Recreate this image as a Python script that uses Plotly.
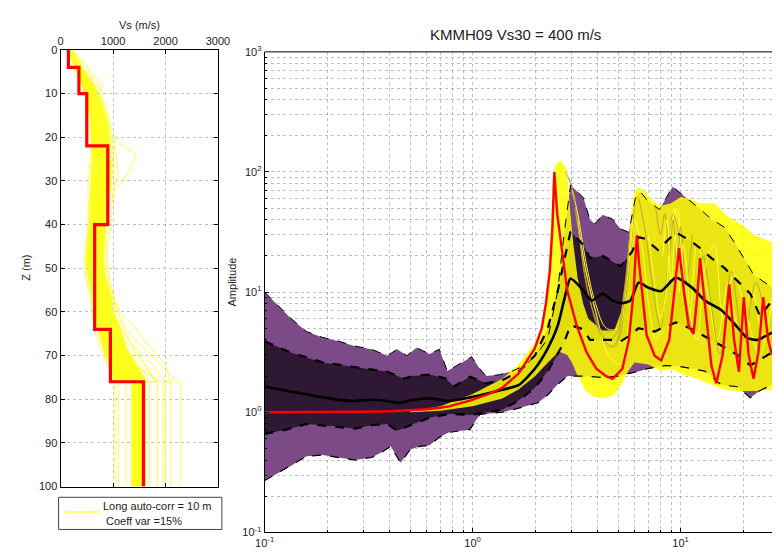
import plotly.graph_objects as go

# ---------------- data: Vs profiles (left panel) ----------------
LAYER_TOP = [0, 4, 10, 22, 40, 64, 76]          # m
LAYER_VS = [150, 350, 500, 900, 650, 950, 1580]  # m/s
Z_MAX = 100

DEPTH_NODES = [0, 4, 8, 12, 16, 20, 24, 28, 32, 36, 40, 44, 48, 52, 56, 60, 64, 68, 72, 76]
CORE_LOW = [150, 250, 390, 500, 560, 580, 600, 580, 560, 550, 540, 500, 490, 520, 600, 640, 700, 800, 920, 1050]
CORE_HIGH = [215, 420, 650, 780, 880, 930, 950, 960, 940, 920, 880, 840, 830, 870, 960, 1020, 1150, 1250, 1450, 1650]
CORE_HALFSPACE = [1350, 1630]

RANDOM_PROFILES = [
    [135, 270, 430, 520, 560, 560, 580, 540, 520, 530, 520, 480, 460, 480, 560, 600, 660, 740, 900, 1020],
    [240, 540, 760, 830, 930, 1000, 1060, 1100, 1010, 980, 960, 900, 880, 920, 1000, 1090, 1200, 1380, 1600, 1800],
    [200, 480, 700, 800, 900, 960, 1440, 1300, 1050, 900, 800, 760, 740, 780, 860, 940, 1020, 1150, 1350, 1500],
    [180, 360, 560, 720, 840, 920, 980, 1000, 960, 900, 860, 820, 800, 860, 960, 1080, 1250, 1550, 1900, 2220],
    [160, 330, 500, 640, 700, 760, 800, 800, 780, 760, 720, 680, 660, 700, 760, 820, 900, 1100, 1400, 1900],
    [220, 420, 640, 760, 820, 880, 940, 980, 940, 880, 840, 860, 880, 920, 1000, 1130, 1440, 1700, 2000, 2100],
    [150, 300, 460, 600, 680, 720, 700, 660, 640, 620, 600, 560, 520, 540, 600, 680, 760, 860, 1000, 1150],
    [190, 380, 600, 740, 780, 820, 860, 900, 880, 860, 800, 760, 720, 740, 800, 900, 1000, 1200, 1500, 1700],
    [170, 300, 480, 580, 640, 700, 740, 700, 660, 640, 620, 600, 580, 620, 680, 740, 800, 900, 1050, 1250],
    [210, 400, 620, 780, 880, 960, 1000, 940, 880, 840, 820, 800, 760, 800, 880, 960, 1100, 1300, 1600, 1850],
    [140, 280, 440, 560, 620, 640, 660, 640, 600, 580, 560, 520, 480, 520, 580, 640, 720, 800, 900, 1050],
    [200, 360, 580, 700, 760, 820, 900, 960, 900, 820, 760, 700, 680, 720, 800, 880, 980, 1100, 1250, 1400],
    [175, 340, 520, 660, 760, 860, 900, 860, 820, 800, 780, 740, 700, 760, 860, 1000, 1150, 1400, 1750, 2000],
    [165, 320, 520, 680, 800, 880, 860, 820, 780, 740, 700, 640, 600, 640, 720, 800, 880, 980, 1150, 1300],
]
HALFSPACE_VS = [1040, 1850, 1560, 2280, 2100, 1950, 1250, 1700, 1460, 1560, 1100, 1420, 2000, 1350]

# ---------------- data: amplification spectra (right panel) ----------------
OUT_UP_F = [0.1, 0.133, 0.159, 0.19, 0.227, 0.272, 0.326, 0.389, 0.434, 0.483, 0.537, 0.621, 0.691, 0.756,
            0.873, 0.989, 1.082, 1.162, 1.341, 1.549, 1.788, 2.063, 2.297, 2.558, 2.75, 2.9, 2.956, 3.41,
            3.664, 3.867, 4.227, 4.71, 5.149, 5.636, 6.05, 6.385, 6.862, 7.502, 7.918, 9.147, 10.94, 12.18,
            14.06, 16.23, 18.07, 20.12, 22.41, 27.5]
OUT_UP_A = [10.0, 6.1, 4.7, 4.2, 3.9, 3.55, 3.35, 2.95, 3.35, 2.95, 3.45, 3.05, 3.35, 2.2,
            2.55, 2.9, 2.3, 2.0, 2.05, 2.2, 2.45, 3.15, 4.1, 10, 30, 65, 78, 61,
            40, 37, 44, 40.5, 33.6, 31.5, 60, 69, 59, 52, 48.7, 75.5, 58.7, 50.4,
            40.5, 34.7, 26.2, 19.2, 14, 10.9]
OUT_LO_F = [0.1, 0.133, 0.159, 0.19, 0.227, 0.272, 0.326, 0.362, 0.404, 0.45, 0.501, 0.558, 0.621, 0.691,
            0.77, 0.971, 1.082, 1.39, 1.726, 2.063, 2.3, 2.56, 2.85, 3.4, 4.2, 5.0, 5.6, 6.4, 6.86, 8.51,
            10.0, 11.34, 13.09, 15.66, 18.73, 21.63, 24.09, 27.5]
OUT_LO_A = [0.27, 0.356, 0.43, 0.44, 0.42, 0.40, 0.42, 0.46, 0.52, 0.38, 0.49, 0.52, 0.53, 0.62,
            0.68, 0.72, 0.96, 1.0, 1.1, 1.2, 1.4, 1.7, 2.0, 2.0, 1.95, 2.0, 2.1, 2.2, 2.3, 2.45,
            2.4, 2.3, 2.2, 1.69, 1.63, 1.32, 1.52, 1.69]
IN_UP_F = [0.1, 0.133, 0.19, 0.272, 0.389, 0.466, 0.519, 0.621, 0.742, 0.813, 0.971, 1.162, 1.39, 1.663,
           1.991, 2.297, 2.558, 2.75, 2.956, 3.41, 3.664, 4.227, 4.71, 5.149, 5.84, 6.28, 6.74, 7.78,
           9.475, 11.34, 12.4, 14.06, 16.23, 18.73, 21.63, 24.09, 27.5]
IN_UP_A = [3.9, 3.15, 2.6, 2.38, 2.17, 1.91, 2.0, 2.06, 1.91, 1.64, 1.98, 1.74, 1.85, 2.17,
           2.96, 5.0, 10, 18, 32, 24.6, 19.2, 20, 18, 16.4, 21.7, 28.7, 27.8, 22.4,
           31.5, 26.2, 23.2, 19.2, 15.9, 12.4, 9.7, 6.3, 8.5]
IN_LO_F = [0.1, 0.133, 0.159, 0.227, 0.272, 0.326, 0.389, 0.434, 0.501, 0.621, 0.77, 0.971, 1.39, 1.663,
           1.991, 2.297, 2.558, 2.75, 2.956, 3.41, 3.664, 4.56, 5.149, 5.636, 6.28, 7.5, 7.92, 9.475,
           11.34, 13.09, 15.66, 18.73, 21.63, 27.5]
IN_LO_A = [0.66, 0.73, 0.80, 0.76, 0.73, 0.78, 0.80, 0.70, 0.78, 0.90, 0.97, 0.95, 1.05, 1.25,
           1.6, 2.2, 3.0, 3.8, 5.3, 4.9, 4.0, 4.0, 3.9, 4.3, 5.0, 4.7, 4.9, 5.6,
           4.9, 4.3, 3.6, 3.0, 2.45, 3.15]
MED_F = [0.1, 0.133, 0.19, 0.2625, 0.326, 0.389, 0.45, 0.519, 0.643, 0.77, 0.971, 1.39, 1.663, 1.991,
         2.297, 2.56, 2.75, 2.956, 3.41, 3.727, 4.227, 4.71, 5.244, 5.733, 6.28, 6.99, 8.06, 9.475,
         11.34, 13.09, 15.66, 18.07, 20.85, 23.23, 27.5]
MED_A = [1.64, 1.49, 1.33, 1.24, 1.27, 1.24, 1.2, 1.27, 1.30, 1.24, 1.33, 1.54, 1.68, 2.3,
         3.4, 5.2, 8.5, 13, 10.3, 8.5, 9.7, 8.5, 8.1, 8.5, 12, 10.9, 10.2, 13.2,
         10.9, 8.5, 7.1, 5.5, 4.17, 4.0, 4.6]
RED_F = [0.1, 0.2, 0.3, 0.4, 0.5, 0.6, 0.7, 0.77, 0.97, 1.2, 1.39, 1.663, 1.99, 2.15, 2.25, 2.35, 2.42,
         2.47, 2.55, 2.653, 2.85, 3.173, 3.532, 3.935, 4.381, 4.71, 5.244, 5.636, 5.947, 6.05, 6.16, 6.3,
         6.5, 6.862, 7.502, 8.06, 8.815, 9.475, 9.82, 10.36, 10.94, 11.54, 12.0, 12.4, 12.8, 13.09, 14.06,
         14.84, 15.93, 17.13, 18.07, 19.07, 20.12, 21.24, 22.41, 23.65, 24.96, 26.34, 27.5]
RED_A = [1.0, 1.0, 1.01, 1.02, 1.04, 1.06, 1.09, 1.12, 1.25, 1.42, 1.6, 2.1, 3.4, 5.0, 8.0, 15, 35,
         100, 45, 26, 10.3, 5.2, 3.15, 2.3, 2.0, 1.9, 2.3, 4.0, 10.3, 18, 29.7, 18,
         10.3, 4.4, 2.96, 2.7, 4.0, 12.4, 23.2, 10.3, 5.2, 4.5, 9, 19.2, 11, 7.5, 2.45,
         1.74, 3.0, 11.6, 4.0, 2.17, 9.1, 3.0, 1.9, 3.15, 9.1, 4.0, 3.0]
YEL_UP_F = [0.5, 0.7, 1.0, 1.39, 1.66, 2.0, 2.2, 2.3, 2.38, 2.43, 2.5, 2.65, 2.8, 2.88, 2.95, 3.05, 3.2,
            3.4, 3.6, 4.2, 4.8, 5.2, 5.5, 5.7, 5.9, 6.2, 6.7, 7.3, 8.0, 9.0, 10.0, 11.0, 12.5, 14.5,
            17.0, 20.0, 22.4, 27.5]
YEL_UP_A = [1.02, 1.12, 1.42, 1.9, 2.5, 3.8, 6, 12, 40, 90, 115, 125, 110, 80, 45, 25, 13,
            8, 6, 4.8, 4.8, 7, 15, 35, 60, 75, 70, 58, 52, 55, 62, 60, 55, 55,
            42, 36, 30, 26]
YEL_LO_F = [0.5, 0.7, 1.0, 1.39, 1.66, 2.0, 2.3, 2.6, 2.85, 3.0, 3.2, 3.5, 3.8, 4.3, 4.8, 5.2, 5.6,
            6.0, 7.0, 8.0, 9.0, 10.0, 12.0, 14.0, 16.0, 19.0, 23.0, 27.5]
YEL_LO_A = [1.0, 1.03, 1.12, 1.3, 1.55, 2.0, 2.6, 3.2, 3.0, 2.6, 2.0, 1.5, 1.35, 1.3, 1.4, 1.7, 2.2,
            2.6, 2.5, 2.2, 2.3, 2.1, 1.9, 1.7, 1.55, 1.5, 1.5, 1.55]
# individual realisations drawn over the envelope (frequency, amplitude)
REALISATIONS = [
    ([2.9, 3.1, 3.3, 3.6, 4.0, 4.5, 5.0, 5.4, 5.8, 6.0], [90, 60, 25, 10, 5, 3.5, 4, 8, 25, 55]),
    ([3.0, 3.2, 3.5, 3.9, 4.4, 5.0, 5.5, 5.9], [70, 45, 18, 8, 5, 5, 12, 40]),
    ([3.1, 3.4, 3.8, 4.3, 4.8, 5.2, 5.6], [50, 20, 8, 4, 3.5, 6, 18]),
    ([3.2, 3.5, 3.9, 4.5, 5.1, 5.6, 6.0], [40, 15, 7, 3, 2.5, 5, 15]),
    ([2.8, 3.0, 3.25, 3.5, 3.9, 4.4, 4.9, 5.3, 5.7], [100, 75, 30, 12, 6, 4, 4.5, 9, 30]),
    ([6.0, 6.5, 7.0, 7.6, 8.2, 8.8, 9.3, 10, 11, 12, 13.5, 15, 17, 19, 22, 25, 27.5],
     [40, 25, 8, 4, 6, 25, 50, 20, 6, 25, 10, 4, 12, 5, 10, 4, 8]),
    ([6.3, 6.8, 7.4, 8.0, 8.6, 9.2, 9.8, 10.5, 11.5, 12.8, 14, 15.5, 17.5, 20, 23, 26],
     [60, 30, 10, 5, 15, 45, 30, 10, 5, 20, 8, 3, 15, 4, 12, 5]),
    ([7.0, 7.5, 8.0, 8.5, 9.0, 9.6, 10.2, 11, 12, 13, 14.5, 16, 18, 21, 24, 27.5],
     [30, 12, 6, 10, 35, 50, 18, 7, 4, 15, 25, 6, 14, 6, 3, 9]),
    ([7.6, 8.0, 8.4, 8.8, 9.2, 9.6, 10.0, 10.6, 11.4], [50, 30, 45, 20, 40, 15, 35, 12, 30]),
    ([8.2, 8.6, 9.0, 9.4, 9.8, 10.3, 11.0], [20, 40, 12, 30, 10, 25, 8]),
]

W, H = 784, 553
FONT = "Liberation Sans, Arial, Helvetica, sans-serif"
GRID = "rgba(140,140,140,0.55)"
LIGHT_PURPLE = "#7c4a87"
DARK_PURPLE = "#2e1833"

fig = go.Figure()

# ---- left panel: velocity profiles ----
core_x = CORE_LOW + [CORE_HALFSPACE[0], CORE_HALFSPACE[0], CORE_HALFSPACE[1], CORE_HALFSPACE[1]] + CORE_HIGH[::-1]
core_y = DEPTH_NODES + [DEPTH_NODES[-1], Z_MAX, Z_MAX, DEPTH_NODES[-1]] + DEPTH_NODES[::-1]
fig.add_trace(go.Scatter(x=core_x, y=core_y, fill="toself", fillcolor="rgba(255,255,0,0.9)",
                         line=dict(width=0), mode="lines", xaxis="x", yaxis="y", hoverinfo="skip"))
for prof, vs_half in zip(RANDOM_PROFILES, HALFSPACE_VS):
    fig.add_trace(go.Scatter(x=prof + [vs_half, vs_half], y=DEPTH_NODES + [DEPTH_NODES[-1], Z_MAX],
                             mode="lines", line=dict(color="rgba(255,255,40,0.85)", width=1),
                             xaxis="x", yaxis="y", hoverinfo="skip"))

step_x, step_y = [], []
tops = LAYER_TOP + [Z_MAX]
for i, vs in enumerate(LAYER_VS):
    step_x += [vs, vs]
    step_y += [tops[i], tops[i + 1]]
fig.add_trace(go.Scatter(x=step_x, y=step_y, mode="lines", line=dict(color="#ff0000", width=3.2),
                         xaxis="x", yaxis="y", hoverinfo="skip"))

# ---- right panel: amplification ----
def band(fu, au, fl, al, color):
    return go.Scatter(x=fu + fl[::-1], y=au + al[::-1], fill="toself", fillcolor=color,
                      line=dict(width=0), mode="lines", xaxis="x2", yaxis="y2", hoverinfo="skip")

fig.add_trace(band(OUT_UP_F, OUT_UP_A, OUT_LO_F, OUT_LO_A, LIGHT_PURPLE))
fig.add_trace(band(IN_UP_F, IN_UP_A, IN_LO_F, IN_LO_A, DARK_PURPLE))
fig.add_trace(band(YEL_UP_F, YEL_UP_A, YEL_LO_F, YEL_LO_A, "rgba(255,255,0,0.86)"))

for i, (rf, ra) in enumerate(REALISATIONS):
    col = "rgba(190,160,50,0.9)" if i % 2 == 0 else "rgba(255,255,60,0.95)"
    fig.add_trace(go.Scatter(x=rf, y=ra, mode="lines", line=dict(color=col, width=1, shape="spline"),
                             xaxis="x2", yaxis="y2", hoverinfo="skip"))

for fx, ay, w in [(OUT_UP_F, OUT_UP_A, 1), (OUT_LO_F, OUT_LO_A, 1.2), (IN_UP_F, IN_UP_A, 2.2), (IN_LO_F, IN_LO_A, 2.2)]:
    fig.add_trace(go.Scatter(x=fx, y=ay, mode="lines", line=dict(color="black", width=w, dash="dash"),
                             xaxis="x2", yaxis="y2", hoverinfo="skip"))
fig.add_trace(go.Scatter(x=MED_F, y=MED_A, mode="lines", line=dict(color="black", width=2.6, shape="spline", smoothing=0.6),
                         xaxis="x2", yaxis="y2", hoverinfo="skip"))
fig.add_trace(go.Scatter(x=RED_F, y=RED_A, mode="lines", line=dict(color="#ff0000", width=2.4),
                         xaxis="x2", yaxis="y2", hoverinfo="skip"))

# ---- axes ----
tickfont = dict(family=FONT, size=11, color="#222")
common = dict(showline=True, linecolor="black", linewidth=1, ticks="inside", ticklen=4,
              tickcolor="black", zeroline=False, showgrid=True, gridcolor=GRID, griddash="dot",
              gridwidth=1, tickfont=tickfont)

minor_x = [m * 10 ** e for e in (-1, 0, 1) for m in range(2, 10)]
minor_y = [m * 10 ** e for e in (-1, 0, 1, 2) for m in range(2, 10)]
minor_style = dict(ticks="inside", ticklen=2, tickcolor="black", showgrid=True,
                   gridcolor=GRID, griddash="dot", gridwidth=1)

fig.update_layout(
    width=W, height=H, margin=dict(l=0, r=0, t=0, b=0),
    paper_bgcolor="white", plot_bgcolor="white", showlegend=False,
    font=dict(family=FONT, color="#222"),
    xaxis=dict(domain=[52 / W, 214 / W], range=[0, 3000], side="top", tickvals=[0, 1000, 2000, 3000],
               anchor="y", mirror="ticks", **common),
    yaxis=dict(domain=[1 - 491 / H, 1 - 43 / H], range=[Z_MAX, 0], tickvals=list(range(0, 101, 10)),
               anchor="x", mirror="ticks", **common),
    xaxis2=dict(domain=[262 / W, 1.0], type="log", range=[-1, 1.4393], anchor="y2",
                tickmode="array", tickvals=[0.1, 1, 10],
                ticktext=["10<sup>-1</sup>", "10<sup>0</sup>", "10<sup>1</sup>"],
                minor=dict(tickmode="array", tickvals=minor_x, **minor_style), mirror=False, **common),
    yaxis2=dict(domain=[1 - 538 / H, 1 - 45 / H], type="log", range=[-1, 3], anchor="x2",
                tickmode="array", tickvals=[0.1, 1, 10, 100, 1000],
                ticktext=["10<sup>-1</sup>", "10<sup>0</sup>", "10<sup>1</sup>", "10<sup>2</sup>", "10<sup>3</sup>"],
                minor=dict(tickmode="array", tickvals=minor_y, **minor_style), mirror=False, **common),
)

# top frame line of the spectrum axes
fig.add_shape(type="line", xref="x2 domain", yref="y2 domain", x0=0, x1=1, y0=1, y1=1,
              line=dict(color="black", width=1))

# legend of the profile panel
fig.add_shape(type="rect", xref="paper", yref="paper", x0=50 / W, x1=218 / W, y0=1 - 535 / H, y1=1 - 502 / H,
              line=dict(color="#444", width=1), fillcolor="white")
fig.add_shape(type="line", xref="paper", yref="paper", x0=57 / W, x1=92 / W, y0=1 - 517 / H, y1=1 - 517 / H,
              line=dict(color="#ffff40", width=1.5))

def note(text, x, y, size=11, angle=0, xanchor="center"):
    fig.add_annotation(text=text, x=x / W, y=1 - y / H, xref="paper", yref="paper", showarrow=False,
                       xanchor=xanchor, yanchor="middle", textangle=angle,
                       font=dict(family=FONT, size=size, color="#222"))

note("Long auto-corr = 10 m", 94, 511, xanchor="left")
note("Coeff var =15%", 97, 526, xanchor="left")
note("Vs (m/s)", 133, 17)
note("Z (m)", 17, 267, angle=-90)
note("Amplitude", 228, 281, angle=-90)
note("KMMH09 Vs30 = 400 m/s", 520, 27, size=15)

fig.write_html("out.html")
